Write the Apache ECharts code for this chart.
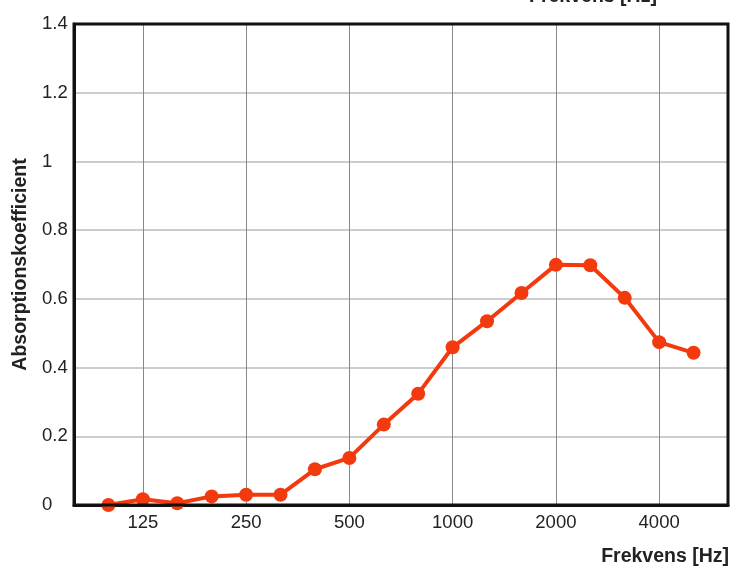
<!DOCTYPE html>
<html>
<head>
<meta charset="utf-8">
<script src="https://cdn.jsdelivr.net/npm/echarts@6/dist/echarts.min.js"></script>
<style>
html,body{margin:0;padding:0;background:#fff;}
#chart{width:735px;height:568px;}
</style>
</head>
<body>
<div id="chart"></div>
<script>
var frequencies = ['80','100','125','160','200','250','315','400','500','630','800','1000','1250','1600','2000','2500','3150','4000','5000','6300'];
var absorption = [null,0.00,0.017,0.005,0.025,0.03,0.03,0.104,0.137,0.234,0.324,0.459,0.535,0.617,0.699,0.698,0.603,0.474,0.443,null];
var labeledTicks = ['125','250','500','1000','2000','4000'];
var yTicks = {min:0, max:1.4, interval:0.2};
var xName = 'Frekvens [Hz]';
var yName = 'Absorptionskoefficient';

var FONT = 'Liberation Sans, Arial, sans-serif';
var chart = echarts.init(document.getElementById('chart'));
function isLabeled(idx){ return labeledTicks.indexOf(frequencies[idx]) >= 0; }
chart.setOption({
  animation:false,
  backgroundColor:'#fff',
  textStyle:{fontFamily:FONT},
  graphic:[
    {type:'text', left:529, top:-13, style:{text:xName, font:'bold 19.5px ' + FONT, fill:'#222'}},
    {type:'text', right:6, top:547, style:{text:xName, font:'bold 19.5px ' + FONT, fill:'#222'}}
  ],
  grid:{left:74, right:7, top:24, bottom:63, show:true, borderColor:'#111', borderWidth:3, backgroundColor:'transparent', z:10},
  xAxis:{
    type:'category', data:frequencies, boundaryGap:false,
    axisLine:{show:true, lineStyle:{color:'#111', width:3}},
    axisTick:{show:false},
    axisLabel:{interval:function(i){return isLabeled(i);}, color:'#222', fontSize:18.5, margin:8, fontFamily:FONT},
    splitLine:{show:true, interval:function(i){return isLabeled(i);}, lineStyle:{color:'#888', width:1}}
  },
  yAxis:{
    type:'value', min:yTicks.min, max:yTicks.max, interval:yTicks.interval,
    name:yName, nameLocation:'middle', nameGap:41, nameRotate:90,
    nameTextStyle:{fontWeight:'bold', fontSize:19.5, color:'#222', fontFamily:FONT},
    axisLine:{show:true, lineStyle:{color:'#111', width:3}},
    axisTick:{show:false},
    axisLabel:{color:'#222', fontSize:18.5, margin:32, align:'left', fontFamily:FONT,
      formatter:function(v){return String(Math.round(v*10)/10);}},
    splitLine:{show:true, lineStyle:{color:'#bbb', width:1.5}}
  },
  series:[{
    type:'line', data:absorption, connectNulls:false,
    symbol:'circle', symbolSize:14, showSymbol:true,
    lineStyle:{color:'#f23a0e', width:4},
    itemStyle:{color:'#f23a0e'},
    z:5
  }]
});
</script>
</body>
</html>
